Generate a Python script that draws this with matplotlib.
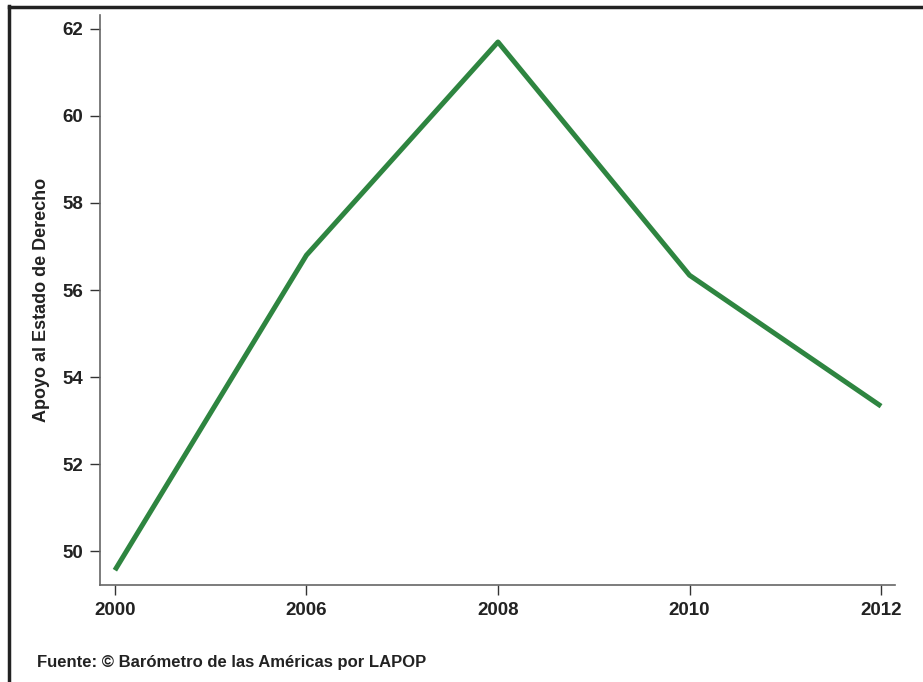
import matplotlib.pyplot as plt
from matplotlib.lines import Line2D

# Data
years = ['2000', '2006', '2008', '2010', '2012']
support = [49.56, 56.8, 61.7, 56.34, 53.33]
y_ticks = [50, 52, 54, 56, 58, 60, 62]

plt.rcParams['font.family'] = ['Liberation Sans', 'DejaVu Sans']
plt.rcParams['font.weight'] = 'bold'

fig = plt.figure(figsize=(9.23, 6.82), dpi=100)
ax = fig.add_axes([0.1083, 0.1422, 0.8614, 0.8358])

x = list(range(len(years)))
ax.plot(x, support, color='#2e8540', linewidth=3.6, solid_capstyle='butt')

ax.set_xlim(-0.078, 4.073)
ax.set_ylim(49.22, 62.32)
ax.set_xticks(x)
ax.set_xticklabels(years)
ax.set_yticks(y_ticks)

for s in ['top', 'right']:
    ax.spines[s].set_visible(False)
for s in ['left', 'bottom']:
    ax.spines[s].set_color('#666666')
    ax.spines[s].set_linewidth(1.2)

ax.tick_params(axis='both', direction='out', length=7, width=1, color='#333333',
               labelsize=13.5, labelcolor='#222222', pad=5)
ax.set_ylabel('Apoyo al Estado de Derecho', fontsize=13, fontweight='bold',
              color='#222222', labelpad=9)

# outer frame (top and left only)
fig.add_artist(Line2D([0.0098, 1.0], [1 - 7 / 682, 1 - 7 / 682], transform=fig.transFigure,
                      color='#222222', linewidth=2.5))
fig.add_artist(Line2D([9 / 923, 9 / 923], [0, 1 - 6 / 682], transform=fig.transFigure,
                      color='#222222', linewidth=2.5))

fig.text(37 / 923, 1 - 663 / 682, 'Fuente: © Barómetro de las Américas por LAPOP',
         fontsize=12, fontweight='bold', color='#222222', va='center', ha='left')

fig.savefig('out.png', dpi=100)
